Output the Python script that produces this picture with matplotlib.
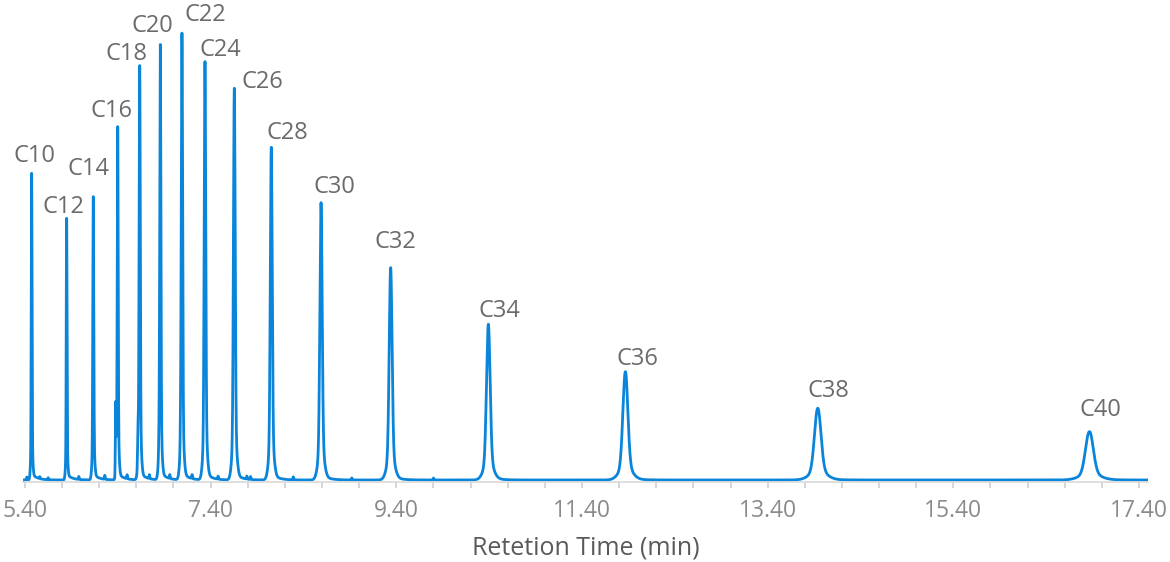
import numpy as np
import matplotlib
matplotlib.use("Agg")
import matplotlib.pyplot as plt

plt.rcParams["font.family"] = ["Open Sans", "DejaVu Sans"]

# n-alkane peaks: retention time (min), height (a.u.), width sigma (min)
names = ["C10", "C12", "C14", "C16", "C18", "C20", "C22", "C24",
         "C26", "C28", "C30", "C32", "C34", "C36", "C38", "C40"]
rt = [5.472, 5.849, 6.136, 6.399, 6.636, 6.858, 7.091, 7.339,
      7.655, 8.053, 8.589, 9.339, 10.391, 11.867, 13.939, 16.865]
height = [306.7, 261.7, 283.3, 353.3, 414.3, 435.3, 446.7, 418.3,
          391.7, 332.7, 277.3, 212.3, 155.7, 108.3, 71.7, 48.3]
sigma = [0.004, 0.004, 0.005, 0.005, 0.006, 0.006, 0.007, 0.008,
         0.009, 0.010, 0.012, 0.015, 0.019, 0.026, 0.034, 0.041]

# small impurity peaks / shoulders
minor_rt = [5.42, 5.56, 5.65, 5.98, 6.26, 6.378, 6.50, 6.617, 6.74, 6.843,
            6.96, 7.076, 7.20, 7.48, 7.79, 7.83, 8.29, 8.92, 9.80]
minor_h = [3, 2, 2, 3, 4, 68, 4, 34, 4, 10,
           4, 13, 4, 3, 3, 3, 3, 2, 2]

# label placement relative to each apex, in pixels (dx, dy)
label_dx = [3, -3, -5, -6, -13, -8, 23, 15, 28, 16.5, 13, 5, 11, 12.4, 10.6, 10.7]
label_dy = [11.6, 5.3, 21.7, 10, 5.7, 12.4, 12.3, 5.7, 0, 8, 9.7, 19.4, 7.6, 6.7, 11, 16]

t = np.arange(5.38, 17.50, 0.0005)
signal = np.zeros_like(t)
for t0, h, s in zip(rt, height, sigma):
    core = 0.88 * h * np.exp(-0.5 * ((t - t0) / s) ** 2)
    skirt = 0.12 * h * np.exp(-0.5 * ((t - t0) / (2.5 * s)) ** 2)
    dt = np.clip(t - t0, 0, None)
    tail = (0.015 * h + 2) * (1 - np.exp(-dt / s)) * np.exp(-dt / (0.05 + 1.5 * s))
    signal += core + skirt + tail
for t0, h in zip(minor_rt, minor_h):
    signal += h * np.exp(-0.5 * ((t - t0) / 0.004) ** 2)

fig = plt.figure(figsize=(11.7, 5.62), dpi=100)
ax = fig.add_axes([23.1 / 1170, 80 / 562, 1125.2 / 1170, 482 / 562])

ax.plot(t, signal, color="#0a85d9", lw=2.0, solid_joinstyle="round")

for name, t0, h, dx, dy in zip(names, rt, height, label_dx, label_dy):
    ax.annotate(name, xy=(t0, h), xytext=(dx, dy), textcoords="offset pixels",
                ha="center", va="baseline", fontsize=17, color="#6b6b6b")

ax.set_xlim(5.38, 17.50)
ax.set_ylim(-2, 480)

ax.set_xticks(np.arange(5.4, 17.41, 2.0))
ax.set_xticklabels([f"{v:.2f}" for v in np.arange(5.4, 17.41, 2.0)])
ax.set_xticks(np.arange(5.4, 17.5, 0.4), minor=True)
ax.tick_params(axis="x", which="both", direction="out", length=4, width=1.2,
               color="#d0d0d0", pad=8, labelsize=16.5, labelcolor="#8a8a8a")
ax.set_yticks([])

for side in ["left", "top", "right"]:
    ax.spines[side].set_visible(False)
ax.spines["bottom"].set_color("#d9d9d9")
ax.spines["bottom"].set_linewidth(1.2)

ax.set_xlabel("Retetion Time (min)", fontsize=18, color="#595959", labelpad=9)

fig.savefig("out.png", dpi=100)
